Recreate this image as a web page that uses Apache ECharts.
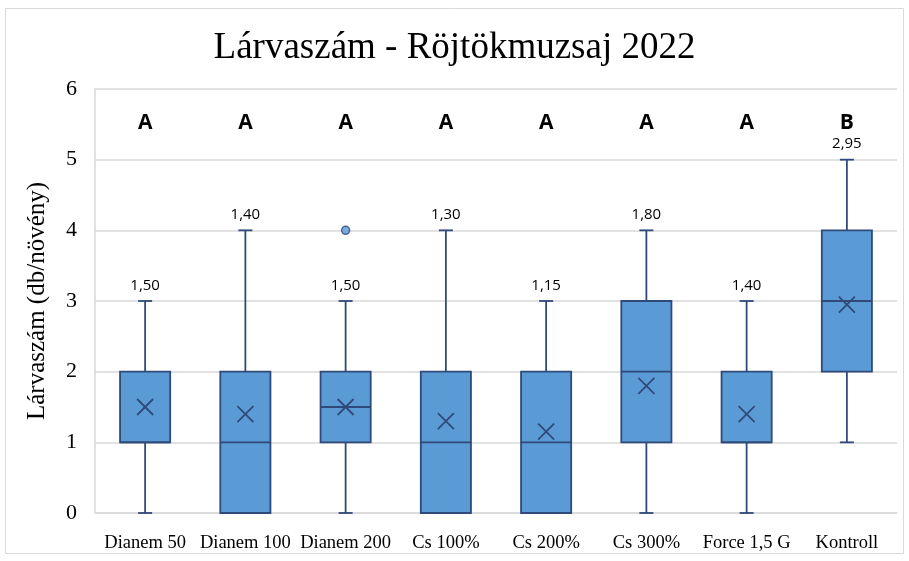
<!DOCTYPE html>
<html>
<head>
<meta charset="utf-8">
<script src="https://cdn.jsdelivr.net/npm/echarts@6/dist/echarts.min.js"></script>
<style>
  html, body { margin: 0; padding: 0; background: #fff; }
  #chart { width: 909px; height: 561px; }
</style>
</head>
<body>
<div id="chart"></div>
<script>
var categories = ['Dianem 50', 'Dianem 100', 'Dianem 200', 'Cs 100%', 'Cs 200%', 'Cs 300%', 'Force 1,5 G', 'Kontroll'];
var minVals = [0, 0, 0, 0, 0, 0, 0, 1];
var q1Vals = [1, 0, 1, 0, 0, 1, 1, 2];
var medVals = [1, 1, 1.5, 1, 1, 2, 1, 3];
var q3Vals = [2, 2, 2, 2, 2, 3, 2, 4];
var maxVals = [3, 4, 3, 4, 3, 4, 3, 5];
var meanVals = [1.50, 1.40, 1.50, 1.30, 1.15, 1.80, 1.40, 2.95];
var letters = ['A', 'A', 'A', 'A', 'A', 'A', 'A', 'B'];
var outliers = [[2, 4]];

var fill = '#5B9BD5';
var navy = '#2F4A7A';
var grid = '#D9D9D9';
var serif = '"Liberation Serif", "Times New Roman", serif';
var sans = '"Open Sans", "Noto Sans", sans-serif';

var chart = echarts.init(document.getElementById('chart'), null, { renderer: 'canvas' });

var boxData = categories.map(function(c, i) {
    return [i, minVals[i], q1Vals[i], medVals[i], q3Vals[i], maxVals[i], meanVals[i]];
});

function fmt(v) { return v.toFixed(2).replace('.', ','); }

function renderBox(params, api) {
    var i = api.value(0);
    var pMin = api.coord([i, api.value(1)]);
    var pQ1 = api.coord([i, api.value(2)]);
    var pMed = api.coord([i, api.value(3)]);
    var pQ3 = api.coord([i, api.value(4)]);
    var pMax = api.coord([i, api.value(5)]);
    var pMean = api.coord([i, api.value(6)]);
    var pTop = api.coord([i, 6]);
    var band = api.size([1, 0])[0];
    var half = band * 0.25;
    var cap = 7;
    var x = pMin[0];
    var line = { stroke: navy, lineWidth: 1.8 };
    var children = [
        { type: 'line', shape: { x1: x, y1: pMin[1], x2: x, y2: pQ1[1] }, style: line },
        { type: 'line', shape: { x1: x, y1: pQ3[1], x2: x, y2: pMax[1] }, style: line },
        { type: 'line', shape: { x1: x - cap, y1: pMin[1], x2: x + cap, y2: pMin[1] }, style: line },
        { type: 'line', shape: { x1: x - cap, y1: pMax[1], x2: x + cap, y2: pMax[1] }, style: line },
        { type: 'rect', shape: { x: x - half, y: pQ3[1], width: half * 2, height: pQ1[1] - pQ3[1] },
          style: { fill: fill, stroke: navy, lineWidth: 1.8 } },
        { type: 'line', shape: { x1: x - half, y1: pMed[1], x2: x + half, y2: pMed[1] }, style: line },
        { type: 'line', shape: { x1: pMean[0] - 8, y1: pMean[1] - 8, x2: pMean[0] + 8, y2: pMean[1] + 8 }, style: line },
        { type: 'line', shape: { x1: pMean[0] - 8, y1: pMean[1] + 8, x2: pMean[0] + 8, y2: pMean[1] - 8 }, style: line },
        { type: 'text', x: x, y: pMax[1] - 8,
          style: { text: fmt(api.value(6)), fill: '#000', font: '15px ' + sans, align: 'center', verticalAlign: 'bottom' } },
        { type: 'text', x: x, y: pTop[1] + 34,
          style: { text: letters[i], fill: '#000', font: 'bold 21px ' + sans, align: 'center', verticalAlign: 'middle' } }
    ];
    return { type: 'group', children: children };
}

chart.setOption({
    animation: false,
    title: {
        text: 'Lárvaszám - Röjtökmuzsaj 2022',
        left: 'center',
        top: 25,
        textStyle: { fontFamily: serif, fontSize: 37, fontWeight: 'normal', color: '#000' }
    },
    graphic: [{
        type: 'rect',
        shape: { x: 5.5, y: 8.5, width: 898, height: 545 },
        style: { fill: 'none', stroke: grid, lineWidth: 1 },
        silent: true
    }],
    grid: { left: 95, right: 12, top: 89, bottom: 48 },
    xAxis: {
        type: 'category',
        data: categories,
        axisLine: { lineStyle: { color: grid, width: 1.5 } },
        axisTick: { show: false },
        axisLabel: { color: '#000', fontFamily: serif, fontSize: 18.5, margin: 21, interval: 0 }
    },
    yAxis: {
        type: 'value',
        min: 0,
        max: 6,
        interval: 1,
        name: 'Lárvaszám (db/növény)',
        nameLocation: 'middle',
        nameGap: 45,
        nameTextStyle: { color: '#000', fontFamily: serif, fontSize: 25 },
        axisLine: { show: true, lineStyle: { color: grid, width: 1.5 } },
        axisTick: { show: false },
        axisLabel: { color: '#000', fontFamily: serif, fontSize: 22, margin: 18 },
        splitLine: { lineStyle: { color: grid, width: 1.5 } }
    },
    series: [
        {
            type: 'custom',
            renderItem: renderBox,
            data: boxData,
            encode: { x: 0, y: [1, 5] },
            z: 3
        },
        {
            type: 'scatter',
            data: outliers,
            symbol: 'circle',
            symbolSize: 8,
            itemStyle: { color: fill, borderColor: navy, borderWidth: 1.5 },
            z: 4
        }
    ]
});
</script>
</body>
</html>
